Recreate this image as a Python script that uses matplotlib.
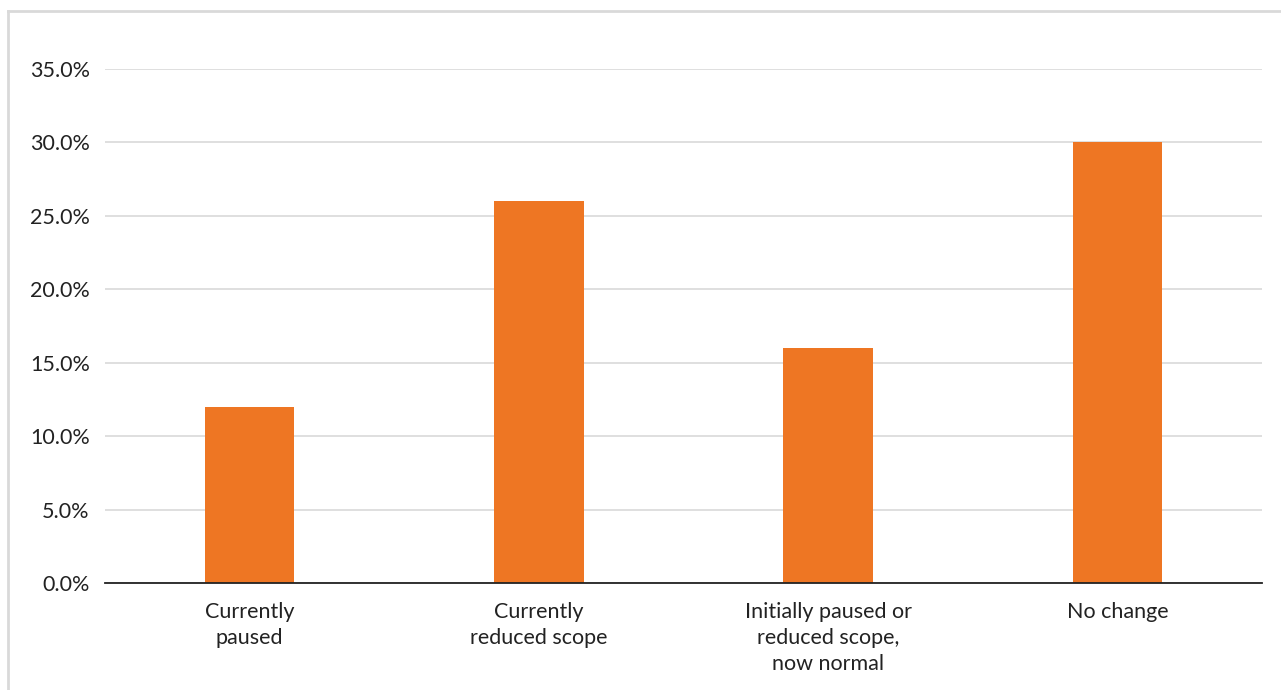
import matplotlib.pyplot as plt
from matplotlib.lines import Line2D

plt.rcParams['font.family'] = ['Lato', 'DejaVu Sans']

# categories and shares (%)
categories = ['Currently\npaused', 'Currently\nreduced scope',
              'Initially paused or\nreduced scope,\nnow normal', 'No change']
shares = [12.0, 26.0, 16.0, 30.0]
yticks = [0, 5, 10, 15, 20, 25, 30, 35]

fig = plt.figure(figsize=(12.81, 6.90), dpi=100)
ax = fig.add_axes([105 / 1281, 1 - 583 / 690, 1157 / 1281, 514 / 690])

x = range(len(categories))
ax.bar(x, shares, width=0.31, color='#EE7623', zorder=3)

ax.set_xlim(-0.5, len(categories) - 0.5)
ax.set_ylim(0, 35)
ax.set_yticks(yticks)
ax.set_yticklabels(['{:.1f}%'.format(v) for v in yticks])
ax.set_xticks(list(x))
ax.set_xticklabels(categories, linespacing=1.35)
ax.tick_params(axis='both', length=0, labelsize=15.5, colors='#222222')
ax.tick_params(axis='x', pad=14)
ax.tick_params(axis='y', pad=11)

ax.grid(axis='y', color='#d9d9d9', linewidth=1.2, zorder=0)
for side in ['top', 'right', 'left']:
    ax.spines[side].set_visible(False)
ax.spines['bottom'].set_color('#222222')
ax.spines['bottom'].set_linewidth(1.3)
ax.spines['bottom'].set_zorder(4)

# light frame along top and left edge
fig.add_artist(Line2D([8 / 1281, 1], [1 - 10.5 / 690] * 2, color='#d9d9d9', lw=2))
fig.add_artist(Line2D([8 / 1281] * 2, [0, 1 - 10.5 / 690], color='#d9d9d9', lw=2))

fig.savefig('out.png', dpi=100)
